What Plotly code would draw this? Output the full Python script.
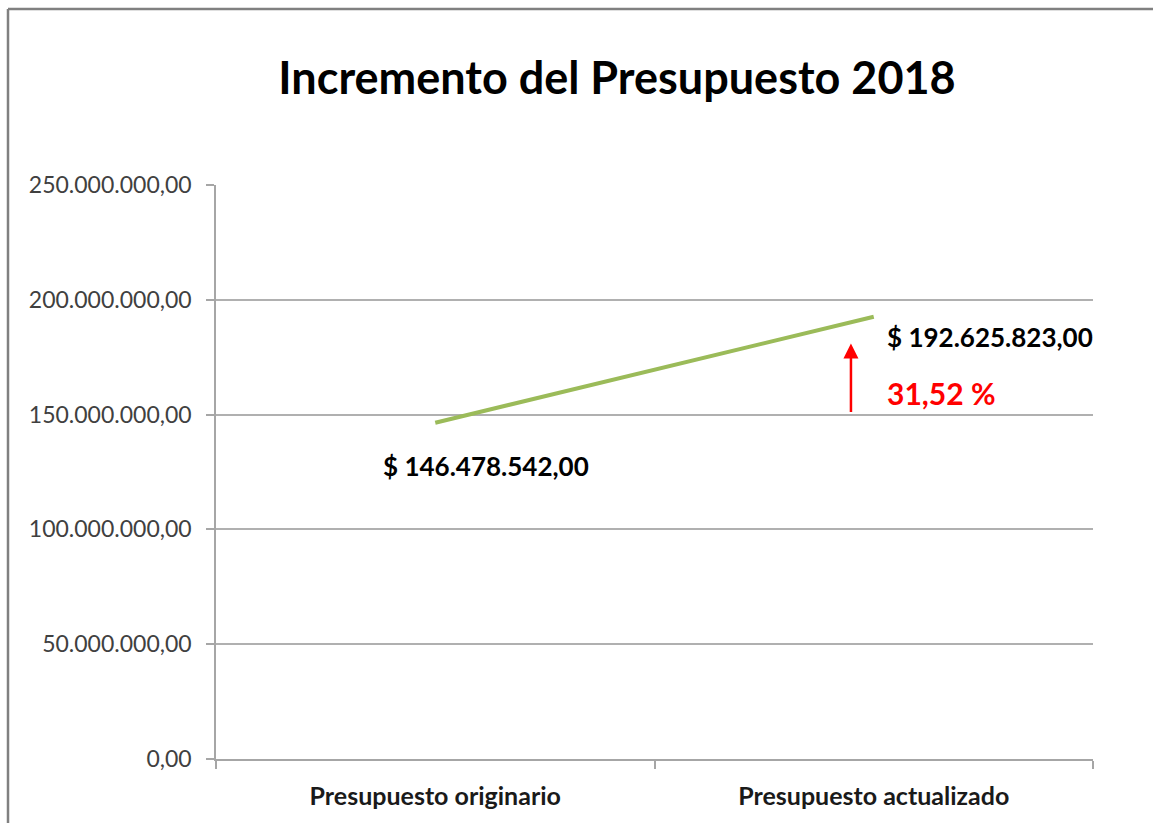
import plotly.graph_objects as go

categories = ["Presupuesto originario", "Presupuesto actualizado"]
values = [146478542.00, 192625823.00]
value_labels = ["$ 146.478.542,00", "$ 192.625.823,00"]
pct_label = "31,52 %"
y_ticks = [0, 50000000, 100000000, 150000000, 200000000, 250000000]
y_tick_text = ["0,00", "50.000.000,00", "100.000.000,00", "150.000.000,00",
               "200.000.000,00", "250.000.000,00"]

W, H = 1153, 823
L, R, T, B = 216, 60, 185, 64
pw = W - L - R
ph = H - T - B

fig = go.Figure()
fig.add_trace(go.Scatter(
    x=categories, y=values, mode="lines",
    line=dict(color="#9BBB59", width=4),
    showlegend=False, hoverinfo="skip"))

fig.update_layout(
    width=W, height=H,
    margin=dict(l=L, r=R, t=T, b=B),
    paper_bgcolor="white", plot_bgcolor="white",
    title=dict(text="<b>Incremento del Presupuesto 2018</b>",
               font=dict(family="Lato", size=45, color="black"),
               x=617 / W, xanchor="center", xref="container",
               y=1 - 78 / H, yanchor="middle", yref="container"),
    font=dict(family="Lato"),
)

fig.update_xaxes(
    type="category", tickson="boundaries", ticks="outside", ticklen=8,
    tickcolor="#a6a6a6", tickwidth=1.5,
    showline=True, linecolor="#a6a6a6", linewidth=1.5,
    showgrid=False, range=[-0.5, 1.5],
    tickfont=dict(family="Lato", size=25, color="#1a1a1a", weight="bold"),
    ticklabelstandoff=14,
)
fig.update_yaxes(
    range=[0, 250000000], tickvals=y_ticks, ticktext=y_tick_text,
    ticks="outside", ticklen=8, tickcolor="#a6a6a6", tickwidth=1.5,
    showline=True, linecolor="#a6a6a6", linewidth=1.5,
    showgrid=True, gridcolor="#b0b0b0", gridwidth=1.5,
    zeroline=False,
    tickfont=dict(family="Lato", size=23, color="#404040"),
    ticklabelstandoff=10,
)

# data labels
fig.add_annotation(x=0, y=values[0], text="<b>" + value_labels[0] + "</b>",
                   showarrow=False, xshift=51, yshift=-43,
                   font=dict(family="Lato", size=26, color="black"))
fig.add_annotation(x=1, y=values[1], text="<b>" + value_labels[1] + "</b>",
                   showarrow=False, xshift=116, yshift=-20,
                   font=dict(family="Lato", size=26, color="black"))

# increase arrow
fig.add_annotation(x=0.948, y=181000000, ax=0.948, ay=150500000,
                   xref="x", yref="y", axref="x", ayref="y",
                   text="", showarrow=True, arrowhead=2, arrowsize=1.2,
                   arrowwidth=2.5, arrowcolor="#ff0000")
fig.add_annotation(x=0.948, y=values[0] + 14000000,
                   text="<b>" + pct_label + "</b>", showarrow=False,
                   xanchor="left", xshift=34, yshift=-2,
                   font=dict(family="Lato", size=30, color="#ff0000"))

# outer border (left and top)
x_left = (8 - L) / pw
y_top = (H - B - 9) / ph
fig.add_shape(type="line", xref="paper", yref="paper",
              x0=x_left, x1=x_left, y0=y_top, y1=-0.2,
              line=dict(color="#808080", width=2.5))
fig.add_shape(type="line", xref="paper", yref="paper",
              x0=x_left, x1=1.2, y0=y_top, y1=y_top,
              line=dict(color="#808080", width=2.5))

fig.write_html("out.html",
               config={"displayModeBar": False},
               post_script="document.body.style.margin='0px';"
                           "document.body.style.overflow='hidden';")
